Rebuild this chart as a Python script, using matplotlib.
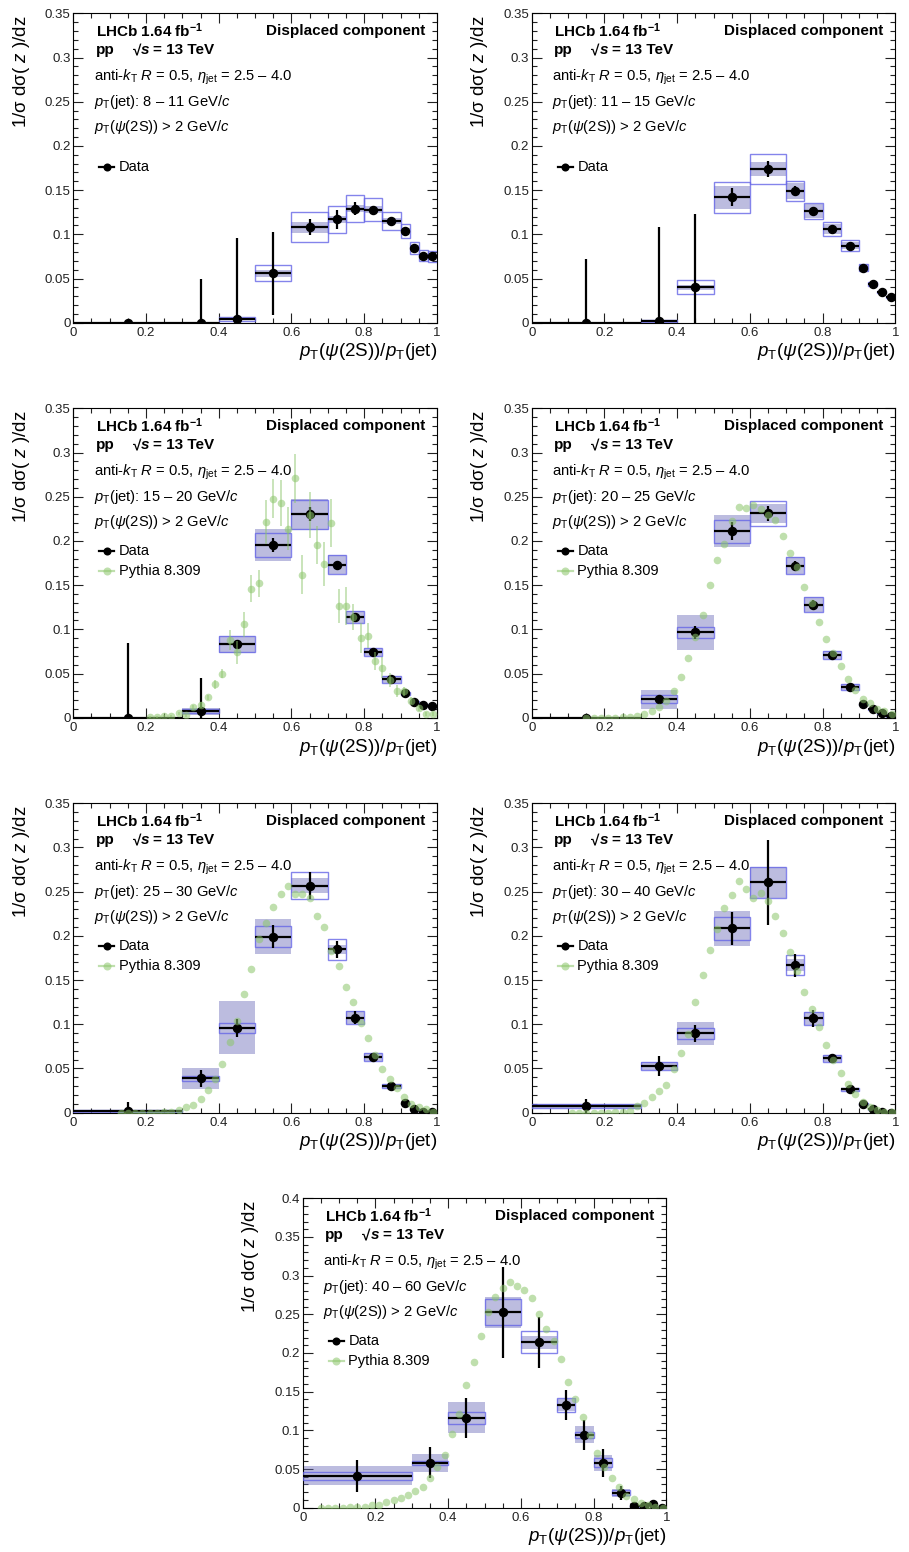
import numpy as np
import matplotlib
matplotlib.use('Agg')
import matplotlib.pyplot as plt
from matplotlib.patches import Rectangle
from matplotlib.ticker import MultipleLocator, FuncFormatter

plt.rcParams['font.family'] = ['Liberation Sans', 'DejaVu Sans']
plt.rcParams['mathtext.fontset'] = 'custom'
plt.rcParams['mathtext.rm'] = 'Liberation Sans'
plt.rcParams['mathtext.it'] = 'Liberation Sans:italic'
plt.rcParams['mathtext.bf'] = 'Liberation Sans:bold'

# z bins
bin_lo = [0.0, 0.3, 0.4, 0.5, 0.6, 0.7, 0.75, 0.8, 0.85, 0.9, 0.925, 0.95, 0.975]
bin_hi = [0.3, 0.4, 0.5, 0.6, 0.7, 0.75, 0.8, 0.85, 0.9, 0.925, 0.95, 0.975, 1.0]

jet_ranges = ['8 – 11', '11 – 15', '15 – 20', '20 – 25', '25 – 30', '30 – 40', '40 – 60']

# data values, stat errors, filled syst box, outlined syst box (half heights)
data_1 = [0, 0, 0.004, 0.056, 0.108, 0.117, 0.129, 0.128, 0.115, 0.104, 0.0845, 0.076, 0.075]
stat_1 = [0, 0.05, 0.092, 0.047, 0.009, 0.011, 0.007, 0.003, 0.004, 0.004, 0.003, 0.002, 0.002]
sysf_1 = [0, 0, 0.001, 0.004, 0.006, 0.004, 0.004, 0.004, 0.003, 0.003, 0.003, 0.002, 0.002]
syso_1 = [0, 0, 0.002, 0.009, 0.017, 0.015, 0.015, 0.0125, 0.010, 0.008, 0.007, 0.0065, 0.0065]

data_2 = [0, 0.002, 0.040, 0.142, 0.1735, 0.149, 0.1265, 0.106, 0.087, 0.062, 0.0437, 0.0347, 0.0294]
stat_2 = [0.072, 0.106, 0.083, 0.010, 0.009, 0.006, 0.004, 0.003, 0.003, 0.002, 0.002, 0.002, 0.002]
sysf_2 = [0, 0.001, 0.003, 0.013, 0.008, 0.009, 0.008, 0.006, 0.004, 0.004, 0.002, 0.001, 0.001]
syso_2 = [0, 0.0015, 0.008, 0.0175, 0.017, 0.011, 0.009, 0.008, 0.006, 0.004, 0.002, 0.001, 0.001]

data_3 = [0, 0.0075, 0.0833, 0.195, 0.230, 0.173, 0.114, 0.0743, 0.0437, 0.0275, 0.018, 0.0143, 0.0136]
stat_3 = [0.084, 0.037, 0.005, 0.008, 0.008, 0.004, 0.004, 0.003, 0.003, 0.002, 0.002, 0.001, 0.001]
sysf_3 = [0, 0.004, 0.0096, 0.018, 0.0175, 0.0105, 0.007, 0.0045, 0.004, 0.002, 0.001, 0.001, 0.001]
syso_3 = [0, 0.002, 0.009, 0.0136, 0.016, 0.0105, 0.007, 0.0045, 0.004, 0.002, 0.001, 0.001, 0.001]

data_4 = [0, 0.0207, 0.0965, 0.211, 0.231, 0.172, 0.128, 0.071, 0.0347, 0.015, 0.0094, 0.0057, 0.002]
stat_4 = [0, 0.004, 0.0075, 0.010, 0.008, 0.005, 0.005, 0.003, 0.002, 0.001, 0.001, 0.001, 0.001]
sysf_4 = [0, 0.0104, 0.020, 0.018, 0.011, 0.0094, 0.008, 0.0047, 0.003, 0.001, 0.001, 0.001, 0.001]
syso_4 = [0, 0.0045, 0.0064, 0.013, 0.0138, 0.0094, 0.008, 0.0047, 0.003, 0.001, 0.001, 0.001, 0.001]

data_5 = [0.0015, 0.0388, 0.096, 0.199, 0.2567, 0.1847, 0.1075, 0.063, 0.030, 0.0105, 0.0038, 0.001, 0.0003]
stat_5 = [0.011, 0.0094, 0.010, 0.013, 0.0155, 0.010, 0.007, 0.005, 0.002, 0.002, 0.001, 0.001, 0.001]
sysf_5 = [0.001, 0.012, 0.030, 0.020, 0.0085, 0.005, 0.007, 0.004, 0.002, 0.001, 0.001, 0.001, 0.001]
syso_5 = [0.001, 0.003, 0.006, 0.0117, 0.0153, 0.0117, 0.007, 0.004, 0.002, 0.001, 0.001, 0.001, 0.001]

data_6 = [0.0075, 0.0528, 0.0897, 0.2085, 0.2605, 0.167, 0.1067, 0.0615, 0.0264, 0.0098, 0.0038, 0.001, 0.0]
stat_6 = [0.0085, 0.0117, 0.0094, 0.019, 0.048, 0.013, 0.0094, 0.005, 0.003, 0.002, 0.001, 0.001, 0.001]
sysf_6 = [0.002, 0.0045, 0.0128, 0.0196, 0.0175, 0.0066, 0.007, 0.004, 0.002, 0.001, 0.001, 0.001, 0.001]
syso_6 = [0.002, 0.004, 0.006, 0.0132, 0.0175, 0.0117, 0.007, 0.004, 0.002, 0.001, 0.001, 0.001, 0.001]

data_7 = [0.0414, 0.058, 0.1164, 0.2526, 0.2138, 0.1328, 0.094, 0.058, 0.0194, 0.002, 0.0026, 0.0043, 0.0]
stat_7 = [0.0205, 0.020, 0.026, 0.059, 0.033, 0.019, 0.019, 0.018, 0.009, 0.002, 0.002, 0.002, 0.001]
sysf_7 = [0.012, 0.012, 0.020, 0.020, 0.008, 0.008, 0.011, 0.010, 0.005, 0.001, 0.001, 0.001, 0.001]
syso_7 = [0.0054, 0.003, 0.0078, 0.017, 0.0144, 0.0086, 0.004, 0.006, 0.003, 0.001, 0.001, 0.001, 0.001]

# Pythia 8.309 (points every 0.02, last point at 0.99)
pythia_3 = [0.001, 0.001, 0.0015, 0.002, 0.005, 0.0026, 0.0117, 0.0143, 0.023, 0.0377,
            0.050, 0.088, 0.074, 0.1056, 0.146, 0.152, 0.2217, 0.2477, 0.2424, 0.214,
            0.2707, 0.1617, 0.229, 0.1953, 0.1738, 0.2205, 0.1263, 0.1263, 0.114, 0.0897,
            0.0927, 0.0645, 0.0565, 0.0426, 0.0305, 0.030, 0.019, 0.011, 0.004, 0.004]
pythia_err_3 = [0.001, 0.001, 0.001, 0.001, 0.002, 0.002, 0.003, 0.003, 0.003, 0.005,
                0.005, 0.011, 0.013, 0.014, 0.015, 0.015, 0.025, 0.022, 0.026, 0.024,
                0.028, 0.022, 0.026, 0.021, 0.025, 0.027, 0.019, 0.021, 0.015, 0.017,
                0.014, 0.010, 0.012, 0.008, 0.007, 0.005, 0.004, 0.003, 0.002, 0.002]
pythia_4 = [0, 0, 0, 0, 0, 0.001, 0.001, 0.002, 0.004, 0.008, 0.0124, 0.019, 0.0305,
            0.046, 0.067, 0.0916, 0.1165, 0.150, 0.178, 0.196, 0.2228, 0.2386, 0.2375,
            0.241, 0.2356, 0.229, 0.224, 0.206, 0.186, 0.170, 0.1474, 0.130, 0.108,
            0.0893, 0.0735, 0.059, 0.0434, 0.031, 0.021, 0.017, 0.010, 0.0075, 0.0045]
pythia_5 = [0, 0, 0, 0, 0, 0, 0.0004, 0.001, 0.003, 0.006, 0.0087, 0.0158, 0.0256, 0.0377,
            0.055, 0.080, 0.104, 0.134, 0.1625, 0.197, 0.215, 0.233, 0.247, 0.256,
            0.2475, 0.2475, 0.243, 0.222, 0.210, 0.183, 0.166, 0.142, 0.125, 0.102,
            0.084, 0.065, 0.049, 0.038, 0.028, 0.018, 0.010, 0.0065, 0.004, 0.001]
pythia_6 = [0, 0, 0, 0, 0, 0, 0.0004, 0.001, 0.0023, 0.0075, 0.011, 0.018, 0.024, 0.031,
            0.049, 0.067, 0.089, 0.125, 0.156, 0.1835, 0.2077, 0.2318, 0.246, 0.2624,
            0.2526, 0.2432, 0.249, 0.2394, 0.2224, 0.2036, 0.182, 0.160, 0.136, 0.1176,
            0.0973, 0.077, 0.0596, 0.0445, 0.033, 0.0207, 0.0117, 0.006, 0.003, 0.001, 0.0005]
pythia_7 = [0, 0, 0, 0, 0.0004, 0.0004, 0.0013, 0.003, 0.0034, 0.007, 0.0095, 0.012,
            0.017, 0.022, 0.027, 0.038, 0.053, 0.068, 0.0957, 0.121, 0.1586, 0.1888,
            0.222, 0.2526, 0.272, 0.2845, 0.292, 0.287, 0.281, 0.271, 0.250, 0.231,
            0.216, 0.192, 0.163, 0.140, 0.117, 0.094, 0.0711, 0.052, 0.038, 0.027,
            0.0155, 0.011, 0.0056, 0.0034, 0.0013, 0]

pythia_centers = np.round(np.arange(0.01, 1.0, 0.02), 2)

panels = [
    (data_1, stat_1, sysf_1, syso_1, None, None, 0.35),
    (data_2, stat_2, sysf_2, syso_2, None, None, 0.35),
    (data_3, stat_3, sysf_3, syso_3, pythia_3, pythia_err_3, 0.35),
    (data_4, stat_4, sysf_4, syso_4, pythia_4, None, 0.35),
    (data_5, stat_5, sysf_5, syso_5, pythia_5, None, 0.35),
    (data_6, stat_6, sysf_6, syso_6, pythia_6, None, 0.35),
    (data_7, stat_7, sysf_7, syso_7, pythia_7, None, 0.4),
]

# axes top-left corners in pixels
corners = [(73.3, 13.3), (531.7, 13.3), (73.3, 408.3), (531.7, 408.3),
           (73.3, 803.3), (531.7, 803.3), (302.7, 1198.3)]

W, H = 909, 1552
AXW, AXH = 363.6, 309.4
GREEN = '#8cc66b'
FILL = (0.42, 0.42, 0.72)
EDGE = (0.40, 0.40, 0.90)

fig = plt.figure(figsize=(W / 100, H / 100), dpi=100)


def put(ax, dx, dy, s, **kw):
    ax.text(dx / AXW, 1 - dy / AXH, s, transform=ax.transAxes, **kw)


fmt = FuncFormatter(lambda v, p: '%g' % round(v, 3))

for i, (vals, stat, sysf, syso, pyt, pyt_err, ymax) in enumerate(panels):
    left, top = corners[i]
    ax = fig.add_axes([left / W, 1 - (top + AXH) / H, AXW / W, AXH / H])
    lo = np.array(bin_lo)
    hi = np.array(bin_hi)
    xc = (lo + hi) / 2
    xw = (hi - lo) / 2
    vals = np.array(vals)

    for k in range(len(vals)):
        if sysf[k] > 0:
            ax.add_patch(Rectangle((lo[k], vals[k] - sysf[k]), hi[k] - lo[k], 2 * sysf[k],
                                   facecolor=FILL, alpha=0.45, edgecolor='none', zorder=2))
        if syso[k] > 0:
            ax.add_patch(Rectangle((lo[k], vals[k] - syso[k]), hi[k] - lo[k], 2 * syso[k],
                                   fill=False, edgecolor=EDGE, alpha=0.8, lw=1.0, zorder=3))

    ax.errorbar(xc, vals, xerr=xw, yerr=stat, fmt='o', color='black', ms=5.8,
                elinewidth=1.6, capsize=0, zorder=4)

    if pyt is not None:
        px = pythia_centers[-len(pyt):]
        if pyt_err is not None:
            ax.errorbar(px, pyt, yerr=pyt_err, fmt='o', color=GREEN, alpha=0.55, ms=5.5,
                        mec='none', elinewidth=1.2, capsize=0, zorder=5)
        else:
            ax.plot(px, pyt, 'o', color=GREEN, alpha=0.55, ms=5.5, mec='none', zorder=5)

    ax.set_xlim(0, 1)
    ax.set_ylim(0, ymax)
    ax.xaxis.set_major_locator(MultipleLocator(0.2))
    ax.xaxis.set_minor_locator(MultipleLocator(0.05))
    ax.yaxis.set_major_locator(MultipleLocator(0.05))
    ax.yaxis.set_minor_locator(MultipleLocator(0.01))
    ax.xaxis.set_major_formatter(fmt)
    ax.yaxis.set_major_formatter(fmt)
    ax.tick_params(which='both', direction='in', top=True, right=True, width=0.8,
                   labelsize=9.5, colors='#222222')
    ax.tick_params(which='major', length=7.2)
    ax.tick_params(which='minor', length=3.6)
    ax.tick_params(axis='y', pad=2)
    ax.tick_params(axis='x', pad=3)
    for sp in ax.spines.values():
        sp.set_linewidth(0.8)

    # labels
    put(ax, -52, 1.5, r'1/σ dσ( $z$ )/dz', rotation=90, ha='center', va='top', fontsize=13.5)
    put(ax, AXW, AXH + 29.3, r'$p_{\rm T}$($\psi$(2S))/$p_{\rm T}$(jet)', ha='right',
        va='center', fontsize=13.5)

    # annotations
    put(ax, 22.7, 17.7, r'LHCb 1.64 fb$^{\mathbf{-1}}$', fontweight='bold', fontsize=11, va='center')
    put(ax, 22.7, 36.7, 'pp', fontweight='bold', fontsize=11, va='center')
    put(ax, 59.7, 36.7, '√', fontweight='bold', fontsize=11, va='center')
    put(ax, 68.0, 36.7, 's', fontweight='bold', fontstyle='italic', fontsize=11, va='center')
    put(ax, 80.0, 36.7, '= 13 TeV', fontweight='bold', fontsize=11, va='center')
    put(ax, 351.7, 17.7, 'Displaced component', fontweight='bold', fontsize=11,
        va='center', ha='right')
    put(ax, 20.7, 63.7, r'anti-$k_{\rm T}$ $R$ = 0.5, $\eta_{\rm jet}$ = 2.5 – 4.0',
        fontsize=10.6, va='center')
    put(ax, 20.7, 88.7, r'$p_{\rm T}$(jet): ' + jet_ranges[i] + r' GeV/$c$', fontsize=10.6, va='center')
    put(ax, 20.7, 113.7, r'$p_{\rm T}$($\psi$(2S)) > 2 GeV/$c$', fontsize=10.6, va='center')

    # legend
    if pyt is None:
        rows = [(153.7, 'Data', 'black', 1.0)]
    else:
        rows = [(142.7, 'Data', 'black', 1.0), (162.7, 'Pythia 8.309', GREEN, 0.55)]
    for dy, lab, col, al in rows:
        yy = 1 - dy / AXH
        ax.plot([26 / AXW, 41 / AXW], [yy, yy], color=col, alpha=al, lw=1.6,
                transform=ax.transAxes, clip_on=False)
        ax.plot([33.7 / AXW], [yy], 'o', color=col, alpha=al, ms=5.8, mec='none',
                transform=ax.transAxes, clip_on=False)
        put(ax, 45.7, dy, lab, fontsize=10.5, va='center')

fig.savefig('out.png', dpi=100)
